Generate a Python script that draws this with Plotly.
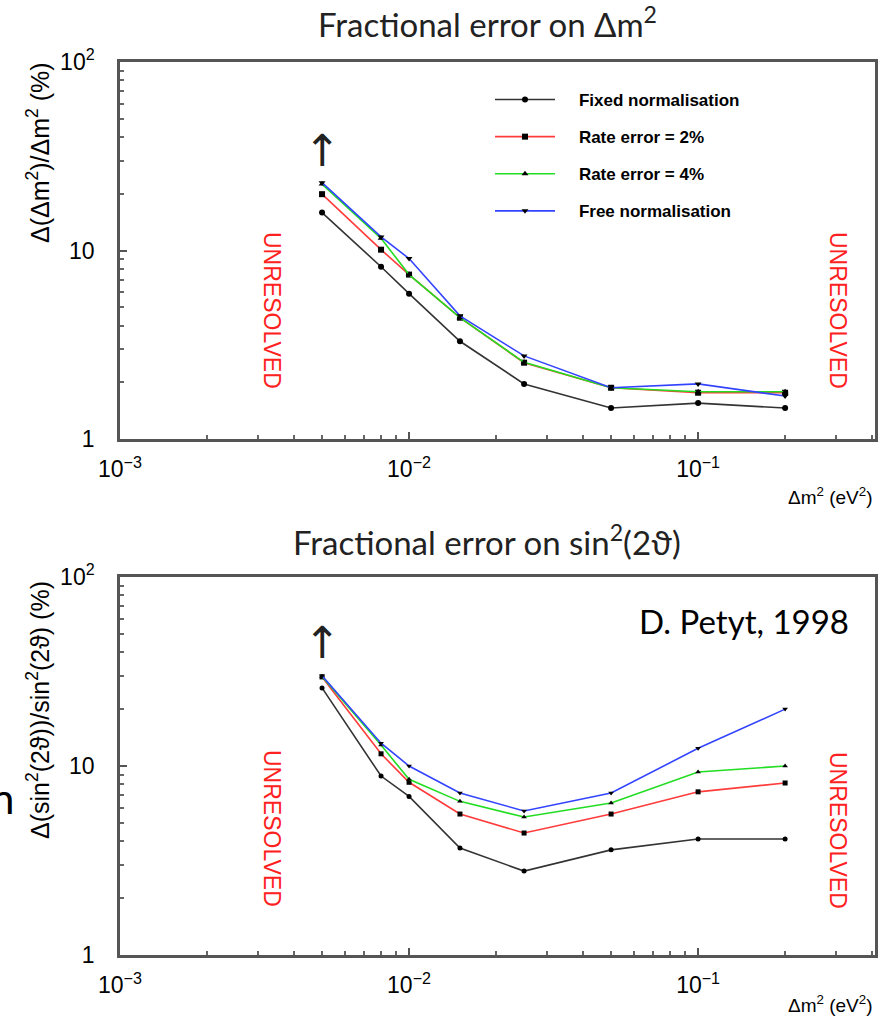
import math
import plotly.graph_objects as go

# ---------------- data ----------------
dm2 = [0.005, 0.008, 0.01, 0.015, 0.025, 0.05, 0.1, 0.2]

series_names = ["Fixed normalisation", "Rate error = 2%", "Rate error = 4%", "Free normalisation"]
series_colors = ["#333333", "#ff3b3b", "#22dd22", "#3344ff"]
series_symbols = ["circle", "square", "triangle-up", "triangle-down"]

# Fractional error on Δm² (%)
dm_fixed = [15.9, 8.2, 5.9, 3.3, 1.96, 1.46, 1.55, 1.46]
dm_rate2 = [19.9, 10.1, 7.45, 4.4, 2.54, 1.87, 1.76, 1.76]
dm_rate4 = [22.5, 11.6, 7.45, 4.4, 2.55, 1.87, 1.78, 1.78]
dm_free = [22.9, 11.8, 9.06, 4.5, 2.76, 1.87, 1.96, 1.69]

# Fractional error on sin²(2θ) (%)
s_fixed = [25.9, 8.85, 6.9, 3.68, 2.78, 3.6, 4.11, 4.11]
s_rate2 = [29.6, 11.6, 8.2, 5.57, 4.42, 5.57, 7.3, 8.13]
s_rate4 = [29.8, 12.9, 8.5, 6.5, 5.37, 6.37, 9.3, 10.0]
s_free = [30.0, 13.2, 10.0, 7.2, 5.78, 7.2, 12.4, 20.0]

y_tickvals = [1, 10, 100]
y_ticktext = ["1", "10", "10<sup>2</sup>"]
x_tickvals = [0.001, 0.01, 0.1]
x_ticktext = ["10<sup>−3</sup>", "10<sup>−2</sup>", "10<sup>−1</sup>"]

# ---------------- figure ----------------
W, H = 882, 1022
fig = go.Figure()

top_series = [dm_fixed, dm_rate2, dm_rate4, dm_free]
bot_series = [s_fixed, s_rate2, s_rate4, s_free]
pad = "\u00a0" * 4

for i, name in enumerate(series_names):
    fig.add_trace(go.Scatter(
        x=dm2, y=top_series[i], mode="lines+markers", name=pad + name,
        legendgroup=name, showlegend=True,
        line=dict(color=series_colors[i], width=1.6),
        marker=dict(color="black", size=6, symbol=series_symbols[i]),
        xaxis="x", yaxis="y"))
for i, name in enumerate(series_names):
    fig.add_trace(go.Scatter(
        x=dm2, y=bot_series[i], mode="lines+markers", name=pad + name,
        legendgroup=name, showlegend=False,
        line=dict(color=series_colors[i], width=1.6),
        marker=dict(color="black", size=5, symbol=series_symbols[i]),
        xaxis="x2", yaxis="y2"))

minor_vals = [m * 10 ** e for e in range(-3, 2) for m in range(2, 10)]
L, R = 120, 875

def xaxis_cfg(anchor):
    return dict(
        type="log", range=[-3, -0.388], domain=[L / W, R / W], anchor=anchor,
        tickmode="array", tickvals=x_tickvals, ticktext=x_ticktext,
        ticks="inside", ticklen=7, tickcolor="#555", tickwidth=1.5,
        minor=dict(tickmode="array", tickvals=minor_vals, ticks="inside",
                   ticklen=4, tickcolor="#666", showgrid=False),
        showline=True, linecolor="#555", linewidth=2.5, mirror=True,
        showgrid=False, zeroline=False, ticklabelstandoff=8, automargin=False,
        tickfont=dict(family="Liberation Sans", size=23, color="black"))

def yaxis_cfg(anchor, dom):
    return dict(
        type="log", range=[0, 2], domain=dom, anchor=anchor,
        tickmode="array", tickvals=y_tickvals, ticktext=y_ticktext,
        ticks="inside", ticklen=7, tickcolor="#555", tickwidth=1.5,
        minor=dict(tickmode="array", tickvals=minor_vals, ticks="inside",
                   ticklen=4, tickcolor="#666", showgrid=False),
        showline=True, linecolor="#555", linewidth=2.5, mirror=True,
        showgrid=False, zeroline=False, ticklabelstandoff=18, automargin=False,
        tickfont=dict(family="Liberation Sans", size=23, color="black"))

fig.update_layout(
    width=W, height=H, margin=dict(l=0, r=0, t=0, b=0, autoexpand=False),
    paper_bgcolor="white", plot_bgcolor="white",
    xaxis=xaxis_cfg("y"),
    yaxis=yaxis_cfg("x", [1 - 439 / H, 1 - 62 / H]),
    xaxis2=xaxis_cfg("y2"),
    yaxis2=yaxis_cfg("x2", [1 - 955 / H, 1 - 577 / H]),
    legend=dict(x=490 / W, y=1 - 82 / H, xanchor="left", yanchor="top",
                bgcolor="rgba(0,0,0,0)", itemwidth=60, tracegroupgap=12,
                font=dict(family="Liberation Sans", size=17, color="black", weight="bold")),
    showlegend=True,
)

ann = []

def add_text(text, xp, yp, font, angle=0, xanchor="center", yanchor="middle"):
    ann.append(dict(text=text, x=xp / W, y=1 - yp / H, xref="paper", yref="paper",
                    xanchor=xanchor, yanchor=yanchor, showarrow=False,
                    textangle=angle, font=font))

title_font = dict(family="Lato", size=33, color="#222")
add_text("Fractional error on Δm<sup>2</sup>", 487, 22, title_font)
add_text("Fractional error on sin<sup>2</sup>(2ϑ)", 487, 540, title_font)

ytitle_font = dict(family="Liberation Sans", size=25, color="black")
add_text("Δ(Δm<sup>2</sup>)/Δm<sup>2</sup> (%)", 38, 153, ytitle_font, angle=-90)
add_text("Δ(sin<sup>2</sup>(2ϑ))/sin<sup>2</sup>(2ϑ) (%)", 38, 710, ytitle_font, angle=-90)

xtitle_font = dict(family="Liberation Sans", size=19, color="black")
add_text("Δm<sup>2</sup> (eV<sup>2</sup>)", 875, 496, xtitle_font, xanchor="right")
add_text("Δm<sup>2</sup> (eV<sup>2</sup>)", 875, 1004, xtitle_font, xanchor="right")

unres_font = dict(family="Liberation Sans", size=23, color="#ff2020")
for xr, yc in [(272, 310), (838, 310), (272, 828), (838, 830)]:
    add_text("UNRESOLVED", xr, yc, unres_font, angle=90)

arrow_font = dict(family="DejaVu Sans", size=44, color="#222")
for xa, ya, yv in [("x", "y", 34), ("x2", "y2", 45)]:
    ann.append(dict(text="↑", x=math.log10(0.005), y=math.log10(yv), xref=xa, yref=ya,
                    xanchor="center", yanchor="middle", showarrow=False, font=arrow_font))

add_text("D. Petyt, 1998", 851, 621, dict(family="Lato", size=33, color="black"), xanchor="right")
add_text("n", 2, 798, dict(family="Lato", size=42, color="black"))

fig.update_layout(annotations=ann)
fig.write_html("out.html")
